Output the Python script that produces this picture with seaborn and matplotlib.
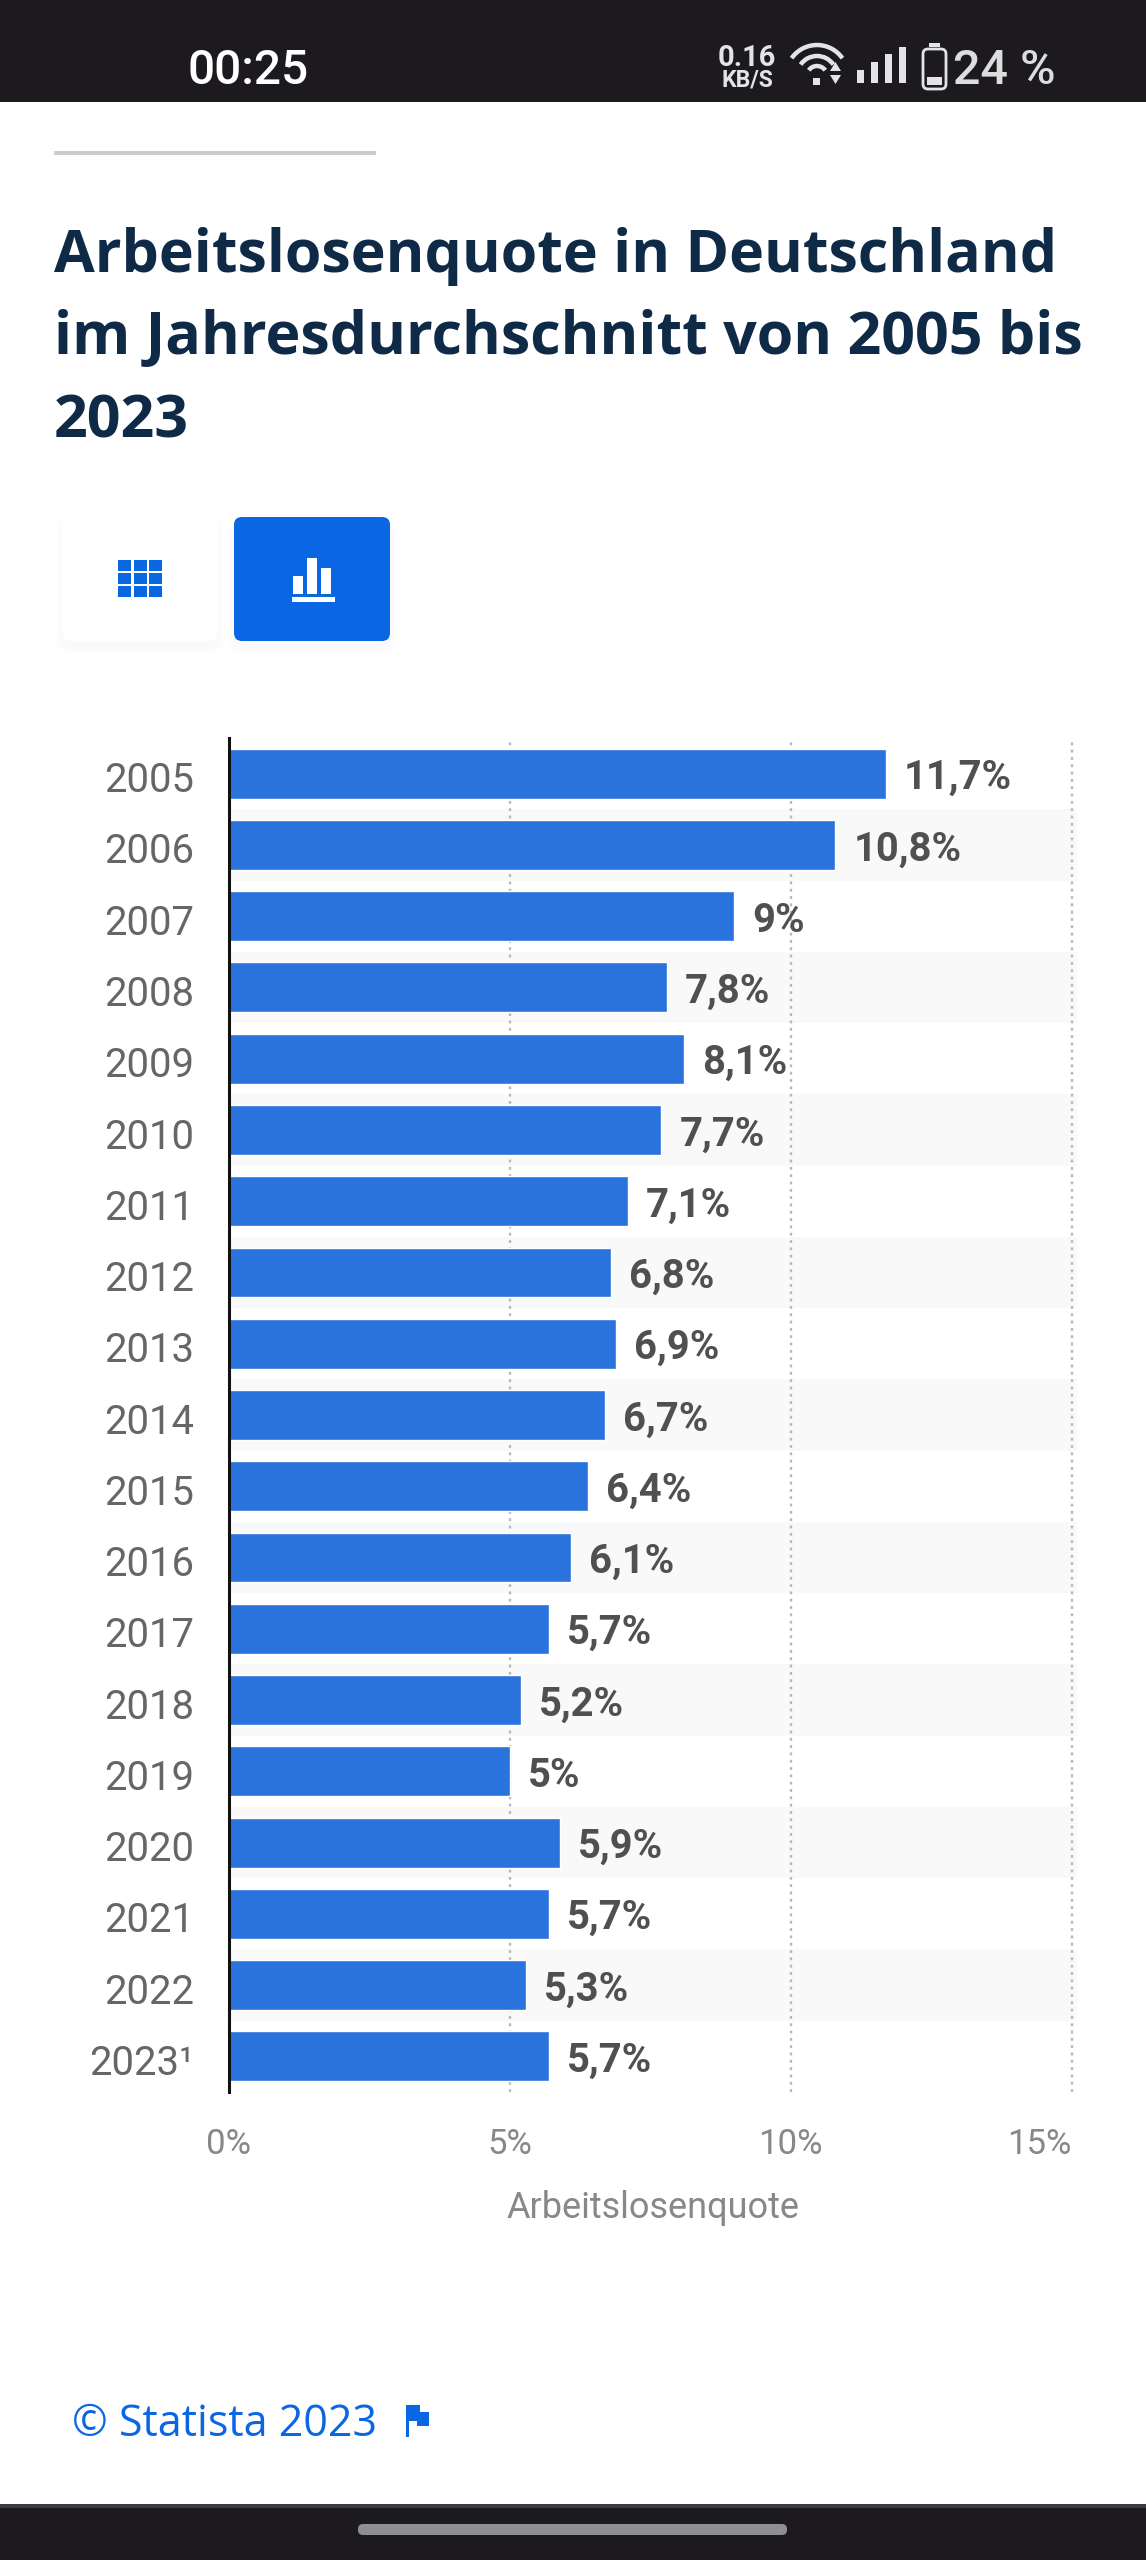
import pandas as pd
import matplotlib.pyplot as plt
from matplotlib.patches import Arc, FancyBboxPatch, Polygon, Rectangle
from matplotlib.transforms import ScaledTranslation
import seaborn as sns

# Chart data
years = ['2005', '2006', '2007', '2008', '2009', '2010', '2011', '2012', '2013', '2014',
         '2015', '2016', '2017', '2018', '2019', '2020', '2021', '2022', '2023¹']
rates = [11.7, 10.8, 9, 7.8, 8.1, 7.7, 7.1, 6.8, 6.9, 6.7,
         6.4, 6.1, 5.7, 5.2, 5, 5.9, 5.7, 5.3, 5.7]
rate_labels = ['11,7%', '10,8%', '9%', '7,8%', '8,1%', '7,7%', '7,1%', '6,8%', '6,9%', '6,7%',
               '6,4%', '6,1%', '5,7%', '5,2%', '5%', '5,9%', '5,7%', '5,3%', '5,7%']
x_ticks = [0, 5, 10, 15]
x_tick_labels = ['0%', '5%', '10%', '15%']

title_lines = ['Arbeitslosenquote in Deutschland',
               'im Jahresdurchschnitt von 2005 bis',
               '2023']

W, H = 1146, 2560
BAR_BLUE = '#2a72dc'
UI_BLUE = '#0b66e4'
DARK = '#1c1a1f'

sns.set_theme(style="white")
plt.rcParams['font.family'] = ['Roboto', 'DejaVu Sans']

df = pd.DataFrame({'jahr': years, 'quote': rates})

fig = plt.figure(figsize=(W / 100, H / 100), dpi=100, facecolor='white')

# Page furniture lives on a full-size overlay in pixel units
page = fig.add_axes([0, 0, 1, 1])
page.set_xlim(0, W)
page.set_ylim(H, 0)
page.axis('off')

# Top status bar
page.add_patch(Rectangle((0, 0), W, 102, color=DARK, lw=0))
page.text(188, 84, '00:25', color='white', fontsize=34.4, fontweight='medium', va='baseline')
page.text(747, 66, '0.16', color='#e4e4e4', fontsize=21, fontweight='bold', ha='center', va='baseline')
page.text(747, 87, 'KB/S', color='#e4e4e4', fontsize=16.5, fontweight='bold', ha='center', va='baseline')
page.text(953, 84, '24 %', color='#dddddd', fontsize=34.8, fontweight='medium', va='baseline')

# Wifi icon
for size in [62, 40, 20]:
    page.add_patch(Arc((817, 76), size, size, theta1=215, theta2=325, color='#e4e4e4', lw=3.2))
page.add_patch(Rectangle((813, 78), 7, 7, color='#e4e4e4', lw=0))
page.add_patch(Polygon([[830, 71], [841, 71], [835.5, 62]], color='#e4e4e4', lw=0))
page.add_patch(Polygon([[830, 75], [841, 75], [835.5, 84]], color='#e4e4e4', lw=0))

# Signal bars
for left, top in zip([857, 871, 885, 899], [70, 62, 54, 47]):
    page.add_patch(Rectangle((left, top), 7, 83 - top, color='#e4e4e4', lw=0))

# Battery
page.add_patch(FancyBboxPatch((923, 49), 23, 40, boxstyle='round,pad=0,rounding_size=5',
                              fc='none', ec='#e4e4e4', lw=2))
page.add_patch(Rectangle((929, 43), 11, 4, color='#e4e4e4', lw=0))
page.add_patch(Rectangle((927, 77), 15, 8, color='#e4e4e4', lw=0))

# Rule above the title
page.add_patch(Rectangle((54, 151), 322, 3.5, color='#cccccc', lw=0))

# Title
for line, baseline in zip(title_lines, [272, 354, 437]):
    page.text(54, baseline, line, color='#0f2a47', fontsize=42.6, family='Open Sans',
              fontweight='bold', va='baseline')

# Toggle buttons, the soft shadow falls below them
for step in range(5):
    grow = 12 - step * 2
    for left in [62, 234]:
        page.add_patch(FancyBboxPatch((left - grow / 2, 517 - grow / 2 + 7), 156 + grow, 124 + grow,
                                      boxstyle='round,pad=0,rounding_size=14', fc='#000000',
                                      ec='none', alpha=0.004))
page.add_patch(FancyBboxPatch((62, 517), 156, 124, boxstyle='round,pad=0,rounding_size=10',
                              fc='white', ec='none'))
page.add_patch(FancyBboxPatch((234, 517), 156, 124, boxstyle='round,pad=0,rounding_size=8',
                              fc=UI_BLUE, ec='none'))
for row in range(3):
    for col in range(3):
        page.add_patch(Rectangle((118 + col * 15.5, 560 + row * 13), 13, 11, color=UI_BLUE, lw=0))
for left, top in zip([293, 307, 321], [576, 558, 568]):
    page.add_patch(Rectangle((left, top), 10, 594 - top, color='white', lw=0))
page.add_patch(Rectangle((292, 597), 43, 5, color='white', lw=0))

# Footer
page.text(72, 2436, '© Statista 2023', color=UI_BLUE, fontsize=31, family='Open Sans', va='baseline')
page.add_patch(Rectangle((406, 2405), 3, 32, color=UI_BLUE, lw=0))
page.add_patch(Polygon([[409, 2405], [420, 2405], [420, 2412], [429, 2412], [429, 2426],
                        [417, 2426], [417, 2421], [409, 2421]], color=UI_BLUE, lw=0))

# Bottom navigation bar
page.add_patch(Rectangle((0, 2504), W, 56, color=DARK, lw=0))
page.add_patch(Rectangle((0, 2504), W, 3.5, color='#3c3b40', lw=0))
page.add_patch(FancyBboxPatch((358, 2524), 429, 11, boxstyle='round,pad=0,rounding_size=5',
                              fc='#8e8e93', ec='none'))

# Chart axes: x from 228.5 to 1077 px, y from 738 to 2092 px
ax = fig.add_axes([228.5 / W, 1 - 2092 / H, 848.5 / W, 1354 / H])
ax.patch.set_alpha(0)

for row in range(1, len(years), 2):
    ax.axhspan(row - 0.5, row + 0.5, color='#f9f9f9', lw=0, zorder=0)

sns.barplot(data=df, x='quote', y='jahr', color=BAR_BLUE, saturation=1, width=0.7, ax=ax, zorder=3)

ax.set_xlim(0, 848.5 / 56.2)
ax.set_ylim(len(years) - 0.5, -0.5)

ax.set_axisbelow(True)
ax.xaxis.grid(True, color='#b8b8b8', lw=1.7, linestyle=(0, (1.2, 1.9)))
ax.yaxis.grid(False)
for name in ['top', 'right', 'bottom']:
    ax.spines[name].set_visible(False)
ax.spines['left'].set_color('#111111')
ax.spines['left'].set_linewidth(2.2)
ax.spines['left'].set_zorder(5)

ax.set_xticks(x_ticks)
ax.set_xticklabels(x_tick_labels)
ax.get_xticklabels()[-1].set_ha('right')
ax.tick_params(axis='x', length=0, pad=26, labelsize=25, labelcolor='#888888')
ax.tick_params(axis='y', length=0, pad=25, labelsize=28.8, labelcolor='#666666')

# Year labels sit a little below the bar centre in the reference
nudge = ScaledTranslation(0, -2.2 / 72, fig.dpi_scale_trans)
for tick in ax.get_yticklabels():
    tick.set_transform(tick.get_transform() + nudge)

ax.set_xlabel('Arbeitslosenquote', fontsize=26, color='#888888', labelpad=21)
ax.set_ylabel('')

value_texts = ax.bar_label(ax.containers[0], labels=rate_labels, padding=13, fontsize=28.8,
                           fontweight='bold', color='#505050')
for text in value_texts:
    text.xyann = (13, -3.2)

fig.savefig('out.png', dpi=100)
